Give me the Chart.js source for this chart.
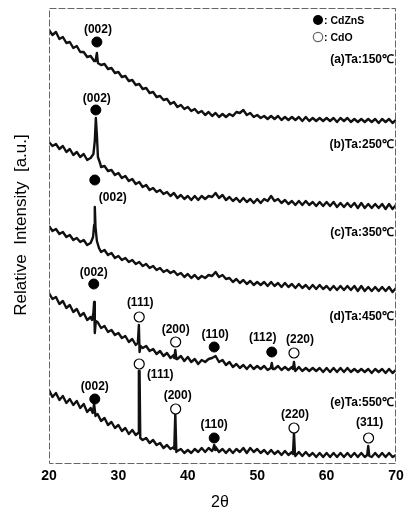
<!DOCTYPE html>
<html>
<head>
<meta charset="utf-8">
<script src="https://cdn.jsdelivr.net/npm/chart.js@4.4.0/dist/chart.umd.min.js"></script>
<style>
  body { margin: 0; background: #fff; }
  canvas { display: block; }
</style>
</head>
<body>
<canvas id="xrd" width="409" height="513"></canvas>
<script>
// 2theta grid, 0.5 deg steps
var twoTheta = [
  20, 20.5, 21, 21.5, 22, 22.5, 23, 23.5, 24, 24.5,
  25, 25.5, 26, 26.5, 27, 27.5, 28, 28.5, 29, 29.5,
  30, 30.5, 31, 31.5, 32, 32.5, 33, 33.5, 34, 34.5,
  35, 35.5, 36, 36.5, 37, 37.5, 38, 38.5, 39, 39.5,
  40, 40.5, 41, 41.5, 42, 42.5, 43, 43.5, 44, 44.5,
  45, 45.5, 46, 46.5, 47, 47.5, 48, 48.5, 49, 49.5,
  50, 50.5, 51, 51.5, 52, 52.5, 53, 53.5, 54, 54.5,
  55, 55.5, 56, 56.5, 57, 57.5, 58, 58.5, 59, 59.5,
  60, 60.5, 61, 61.5, 62, 62.5, 63, 63.5, 64, 64.5,
  65, 65.5, 66, 66.5, 67, 67.5, 68, 68.5, 69, 69.5,
  70
];

// background traces (a.u., curves stacked with offsets as in the figure)
var traceA = [
  433, 428, 431, 424, 426, 420, 421, 415, 417, 411,
  411, 406, 407, 402, 403, 398, 399, 394, 395, 390,
  391, 386, 387, 382, 383, 378, 379, 374, 375, 370,
  371, 366, 367, 363, 364, 359, 361, 356, 358, 354,
  356, 352, 354, 350, 352, 348, 351, 347, 350, 346,
  349, 346, 349, 347, 351, 350, 353, 348, 350, 346,
  348, 345, 347, 344, 347, 344, 347, 343, 346, 343,
  346, 343, 346, 342, 346, 342, 345, 342, 345, 342,
  345, 342, 345, 341, 345, 342, 345, 341, 344, 341,
  344, 341, 344, 341, 344, 340, 344, 341, 344, 340,
  343
];
var traceB = [
  321, 317, 319, 314, 317, 311, 314, 308, 311, 306,
  309, 303, 306, 302, 301, 296, 297, 292, 293, 288,
  290, 285, 287, 282, 284, 279, 281, 276, 278, 273,
  275, 271, 273, 269, 271, 267, 270, 265, 268, 264,
  267, 263, 267, 263, 267, 264, 267, 266, 270, 265,
  268, 263, 266, 262, 265, 261, 265, 261, 264, 260,
  264, 260, 264, 262, 267, 262, 264, 260, 263, 259,
  262, 258, 262, 258, 262, 258, 261, 257, 261, 257,
  261, 257, 261, 256, 260, 256, 260, 256, 260, 255,
  260, 255, 259, 255, 259, 255, 259, 254, 259, 254,
  258
];
var traceC = [
  237, 232, 234, 229, 231, 226, 228, 223, 225, 221,
  223, 218, 221, 217, 216, 211, 213, 208, 210, 205,
  207, 203, 205, 201, 203, 199, 201, 197, 199, 195,
  197, 193, 195, 191, 193, 190, 192, 188, 190, 186,
  189, 185, 188, 184, 187, 185, 188, 187, 191, 186,
  188, 184, 185, 181, 184, 180, 183, 179, 182, 178,
  181, 178, 181, 177, 181, 177, 180, 176, 180, 176,
  179, 175, 179, 175, 178, 174, 178, 174, 178, 174,
  177, 173, 177, 173, 177, 173, 177, 173, 177, 172,
  177, 172, 176, 172, 176, 172, 176, 172, 176, 171,
  175
];
var traceD = [
  170, 164, 166, 159, 162, 155, 158, 151, 154, 147,
  150, 143, 146, 141, 141, 135, 137, 131, 133, 128,
  130, 125, 127, 121, 124, 118, 121, 115, 117, 112,
  114, 109, 112, 107, 110, 105, 108, 104, 107, 102,
  106, 101, 104, 99, 103, 101, 104, 105, 107, 101,
  103, 98, 101, 96, 99, 95, 98, 94, 98, 94,
  97, 94, 97, 93, 97, 94, 97, 93, 96, 93,
  96, 92, 96, 92, 95, 92, 95, 92, 95, 91,
  95, 91, 95, 91, 95, 91, 95, 91, 94, 91,
  94, 91, 94, 90, 94, 91, 94, 90, 94, 90,
  93
];
var traceE = [
  73, 66, 70, 63, 67, 60, 64, 58, 62, 55,
  59, 51, 55, 47, 49, 42, 45, 38, 41, 35,
  38, 32, 35, 29, 33, 28, 30, 23, 25, 20,
  23, 18, 20, 15, 18, 14, 16, 12, 14, 10,
  13, 10, 14, 11, 15, 11, 15, 12, 16, 11,
  14, 10, 14, 10, 14, 11, 15, 10, 15, 11,
  14, 10, 13, 9, 13, 9, 12, 8, 12, 8,
  11, 7, 11, 7, 11, 7, 10, 6, 10, 6,
  10, 6, 10, 6, 10, 6, 10, 6, 10, 6,
  10, 6, 10, 6, 10, 6, 10, 6, 10, 6,
  8
];

// diffraction peaks, [2theta, intensity] points across each peak
var peaksA = [
  [[26.7, 402], [26.9, 410], [27.05, 400]]
];
var peaksB = [
  [[26.0, 305], [26.4, 309], [26.6, 322], [26.75, 345], [26.9, 328], [27.05, 306], [27.4, 299]]
];
var peaksC = [
  [[26.0, 220], [26.35, 226], [26.5, 238], [26.6, 256], [26.7, 236], [26.9, 222], [27.2, 215]]
];
var peaksD = [
  [[26.2, 143], [26.4, 150], [26.5, 161], [26.6, 130], [26.75, 142]],
  [[32.8, 120], [32.95, 138], [33.05, 111], [33.2, 117]],
  [[38.05, 105], [38.2, 113], [38.35, 104]],
  [[51.95, 95], [52.1, 100], [52.25, 94]],
  [[55.15, 94], [55.3, 101], [55.45, 93]]
];
var peaksE = [
  [[26.3, 50], [26.5, 59], [26.7, 47]],
  [[32.85, 30], [32.95, 92], [33.05, 92], [33.15, 25]],
  [[38.05, 14], [38.2, 50], [38.35, 11]],
  [[43.65, 14], [43.8, 18], [43.95, 13]],
  [[55.15, 9], [55.3, 30], [55.45, 8]],
  [[65.85, 8], [66.0, 17], [66.15, 7]]
];

var sampleLabels = ['(a)Ta:150\u2103', '(b)Ta:250\u2103', '(c)Ta:350\u2103', '(d)Ta:450\u2103', '(e)Ta:550\u2103'];

// phase markers
var cdznsX = [26.9, 26.75, 26.6, 26.45, 43.8, 52.1, 26.6, 43.8];
var cdznsY = [421, 353, 283, 179, 116, 111, 64, 25];
var cdznsHkl = ['(002)', '(002)', '(002)', '(002)', '(110)', '(112)', '(002)', '(110)'];
var cdoX = [33.0, 38.25, 55.3, 33.0, 38.25, 55.3, 66.05];
var cdoY = [146, 121, 110, 99, 54, 35, 25];
var cdoHkl = ['(111)', '(200)', '(220)', '(111)', '(200)', '(220)', '(311)'];

var xTicks = [20, 30, 40, 50, 60, 70];

function buildSeries(values, peaks) {
  var pts = twoTheta.map(function (x, i) { return { x: x, y: values[i] }; });
  peaks.forEach(function (g) {
    var lo = g[0][0], hi = g[g.length - 1][0];
    pts = pts.filter(function (p) { return p.x < lo || p.x > hi; });
    g.forEach(function (p) { pts.push({ x: p[0], y: p[1] }); });
  });
  pts.sort(function (a, b) { return a.x - b.x; });
  return pts;
}

function markerPoints(xs, ys) {
  return xs.map(function (x, i) { return { x: x, y: ys[i] }; });
}

var FONT = '"Liberation Sans", Arial, sans-serif';

var traceStyle = {
  type: 'line',
  borderColor: '#111',
  borderWidth: 2.4,
  borderJoinStyle: 'round',
  pointRadius: 0,
  tension: 0,
  fill: false,
  order: 1
};

var cdznsOff = [[1, -12], [1, -11], [18, 18], [0, -11], [1, -12], [-9, -14], [0, -12], [0, -13]];
var cdoOff = [[1, -14], [0, -12], [6, -13], [21, 11], [2, -13], [1, -13], [1, -15]];
var sampleY = [60, 145, 233, 317, 403];

var decorations = {
  id: 'decorations',
  beforeDraw: function (chart) {
    var c = chart.ctx;
    c.save();
    c.fillStyle = '#fff';
    c.fillRect(0, 0, chart.width, chart.height);
    c.restore();
  },
  afterDraw: function (chart) {
    var c = chart.ctx, a = chart.chartArea;
    var xs = chart.scales.x, ys = chart.scales.y;
    c.save();
    // frame
    c.strokeStyle = '#666';
    c.lineWidth = 1;
    c.setLineDash([7, 2]);
    c.strokeRect(a.left + 0.5, a.top + 0.5, a.right - a.left - 1, a.bottom - a.top);
    c.setLineDash([]);

    // hkl labels
    c.fillStyle = '#000';
    c.font = 'bold 12px ' + FONT;
    c.textAlign = 'center';
    c.textBaseline = 'middle';
    cdznsHkl.forEach(function (t, i) {
      c.fillText(t, xs.getPixelForValue(cdznsX[i]) + cdznsOff[i][0], ys.getPixelForValue(cdznsY[i]) + cdznsOff[i][1]);
    });
    cdoHkl.forEach(function (t, i) {
      c.fillText(t, xs.getPixelForValue(cdoX[i]) + cdoOff[i][0], ys.getPixelForValue(cdoY[i]) + cdoOff[i][1]);
    });

    // sample labels
    c.textAlign = 'right';
    sampleLabels.forEach(function (t, i) { c.fillText(t, a.right - 2, sampleY[i]); });

    // legend
    c.beginPath();
    c.arc(318, 20, 5, 0, Math.PI * 2);
    c.fill();
    c.beginPath();
    c.arc(318, 37, 4.7, 0, Math.PI * 2);
    c.lineWidth = 1.2;
    c.stroke();
    c.font = 'bold 10.5px ' + FONT;
    c.textAlign = 'left';
    c.fillText(': CdZnS', 324, 21);
    c.fillText(': CdO', 324, 38);

    // axis titles
    c.font = '16px ' + FONT;
    c.textAlign = 'center';
    c.fillText('2\u03b8', 220, 503);
    c.translate(21, 225);
    c.rotate(-Math.PI / 2);
    c.font = '17px ' + FONT;
    c.fillText('Relative  Intensity  [a.u.]', 0, 0);
    c.restore();
  }
};

var chart = new Chart(document.getElementById('xrd'), {
  type: 'line',
  data: {
    datasets: [
      {
        type: 'scatter', label: 'CdZnS', data: markerPoints(cdznsX, cdznsY),
        pointRadius: 5, pointBackgroundColor: '#000', pointBorderColor: '#000', borderWidth: 1, order: 0
      },
      {
        type: 'scatter', label: 'CdO', data: markerPoints(cdoX, cdoY),
        pointRadius: 5, pointBackgroundColor: '#fff', pointBorderColor: '#000', pointBorderWidth: 1.2, order: 0
      },
      Object.assign({ label: 'a', data: buildSeries(traceA, peaksA) }, traceStyle),
      Object.assign({ label: 'b', data: buildSeries(traceB, peaksB) }, traceStyle),
      Object.assign({ label: 'c', data: buildSeries(traceC, peaksC) }, traceStyle),
      Object.assign({ label: 'd', data: buildSeries(traceD, peaksD) }, traceStyle),
      Object.assign({ label: 'e', data: buildSeries(traceE, peaksE) }, traceStyle)
    ]
  },
  options: {
    responsive: false,
    animation: false,
    layout: { padding: { left: 49, right: 13, top: 8, bottom: 0 } },
    plugins: { legend: { display: false }, tooltip: { enabled: false } },
    scales: {
      x: {
        type: 'linear', min: 20, max: 70,
        afterBuildTicks: function (s) { s.ticks = xTicks.map(function (v) { return { value: v }; }); },
        afterFit: function (s) { s.height = 50; },
        grid: { display: false, drawTicks: false },
        border: { display: false },
        ticks: { color: '#000', padding: 5, font: { family: FONT, size: 14, weight: 'bold' } }
      },
      y: { display: false, min: 0, max: 455 }
    }
  },
  plugins: [decorations]
});
</script>
</body>
</html>
